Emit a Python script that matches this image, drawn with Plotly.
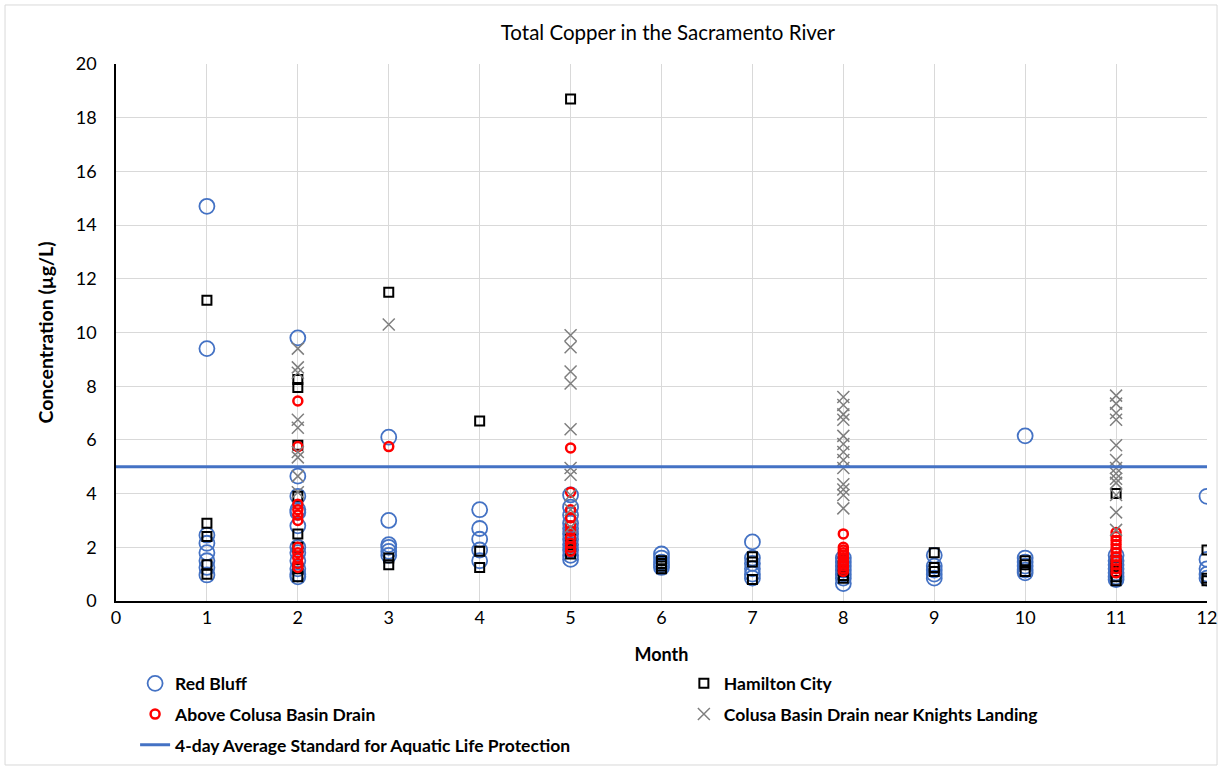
import plotly.graph_objects as go

months = list(range(1, 13))

# Values per month (index 0 = month 1 ... index 11 = month 12)
red_bluff = [
    [14.7, 9.4, 2.45, 2.15, 1.8, 1.5, 1.25, 0.97],
    [9.8, 4.65, 3.9, 3.4, 3.3, 2.8, 2.0, 1.8, 1.5, 1.2, 1.0, 0.9],
    [6.1, 3.0, 2.1, 2.0, 1.85, 1.7],
    [3.4, 2.7, 2.3, 1.9, 1.5],
    [3.95, 3.5, 3.2, 2.9, 2.7, 2.5, 2.3, 2.1, 1.9, 1.7, 1.55],
    [1.75, 1.6, 1.45, 1.35, 1.25],
    [2.2, 1.6, 1.4, 1.2, 1.0, 0.85],
    [1.6, 1.45, 1.3, 1.15, 1.0, 0.85, 0.65],
    [1.7, 1.3, 1.15, 1.0, 0.85],
    [6.15, 1.6, 1.45, 1.3, 1.15, 1.05],
    [1.7, 1.5, 1.35, 1.2, 1.05, 0.9, 0.8],
    [3.9, 1.55, 1.2, 1.0, 0.85],
]
hamilton_city = [
    [11.2, 2.9, 2.4, 1.35, 1.0],
    [8.25, 7.95, 5.8, 3.9, 2.5, 2.0, 1.2, 0.9],
    [11.5, 1.6, 1.35],
    [6.7, 1.85, 1.25],
    [18.7, 2.3, 2.1, 1.9, 1.75],
    [1.5, 1.4, 1.3, 1.2],
    [1.65, 1.45, 0.8],
    [1.5, 1.3, 1.1, 0.95, 0.85],
    [1.8, 1.25, 1.1],
    [1.5, 1.35, 1.1],
    [4.0, 1.5, 1.3, 1.1, 0.9, 0.75],
    [1.9, 0.85, 0.75],
]
above_colusa = [
    [],
    [7.45, 5.75, 3.6, 3.4, 3.2, 3.0, 2.0, 1.8, 1.6, 1.4, 1.25],
    [5.75],
    [],
    [5.7, 4.05, 3.4, 3.1, 2.8, 2.6, 2.35, 2.15, 2.0, 1.85],
    [],
    [],
    [2.5, 2.0, 1.9, 1.8, 1.7, 1.6, 1.5, 1.4, 1.3, 1.2, 1.1],
    [],
    [],
    [2.55, 2.4, 2.25, 2.1, 1.95, 1.8, 1.65, 1.5, 1.35, 1.2, 1.05],
    [],
]
colusa_drain = [
    [],
    [9.4, 8.7, 8.5, 6.75, 6.45, 5.55, 5.35, 4.65, 4.05],
    [10.3],
    [],
    [9.9, 9.45, 8.55, 8.1, 6.4, 4.95, 4.7, 3.95, 3.4, 2.75],
    [],
    [],
    [7.6, 7.3, 6.95, 6.75, 6.15, 5.85, 5.55, 5.25, 4.95, 4.35, 4.15, 3.95, 3.45],
    [],
    [],
    [7.65, 7.35, 7.0, 6.75, 5.8, 5.25, 4.95, 4.75, 4.55, 4.4, 3.95, 3.3, 2.65],
    [],
]
standard_x = [0, 12]
standard_y = [5, 5]


def flatten(series):
    xs, ys = [], []
    for m, vals in zip(months, series):
        for v in vals:
            xs.append(m)
            ys.append(v)
    return xs, ys


FONT = "Lato"
fig = go.Figure()

x, y = flatten(red_bluff)
fig.add_trace(go.Scatter(x=x, y=y, mode="markers", name="Red Bluff",
                         legend="legend", legendgroup="a",
                         marker=dict(symbol="circle-open", size=15, color="#4472C4",
                                     line=dict(width=1.8, color="#4472C4"))))
x, y = flatten(hamilton_city)
fig.add_trace(go.Scatter(x=x, y=y, mode="markers", name="Hamilton City",
                         legend="legend2", legendgroup="b",
                         marker=dict(symbol="square-open", size=9, color="black",
                                     line=dict(width=2, color="black"))))
x, y = flatten(above_colusa)
fig.add_trace(go.Scatter(x=x, y=y, mode="markers", name="Above Colusa Basin Drain",
                         legend="legend", legendgroup="c",
                         marker=dict(symbol="circle-open", size=9, color="#FF0000",
                                     line=dict(width=2.5, color="#FF0000"))))
x, y = flatten(colusa_drain)
fig.add_trace(go.Scatter(x=x, y=y, mode="markers", name="Colusa Basin Drain near Knights Landing",
                         legend="legend2", legendgroup="d",
                         marker=dict(symbol="x-thin-open", size=12, color="#7F7F7F",
                                     line=dict(width=1.5, color="#7F7F7F"))))
fig.add_trace(go.Scatter(x=standard_x, y=standard_y, mode="lines",
                         name="4-day Average Standard for Aquatic Life Protection",
                         legend="legend", legendgroup="e",
                         line=dict(color="#4472C4", width=3)))

legend_common = dict(orientation="v", xanchor="left", yanchor="top",
                     bgcolor="rgba(0,0,0,0)", tracegroupgap=5,
                     font=dict(family=FONT, size=17.5, color="black", weight="bold"))

fig.update_layout(
    width=1222, height=770,
    margin=dict(l=116, r=15, t=64, b=169, autoexpand=False),
    paper_bgcolor="white", plot_bgcolor="white",
    title=dict(text="Total Copper in the Sacramento River", x=0.5465, xanchor="center",
               y=0.958, yanchor="middle",
               font=dict(family=FONT, size=20.5, color="black")),
    xaxis=dict(range=[0, 12], dtick=1, tick0=0, showgrid=True, gridcolor="#D9D9D9",
               gridwidth=1, zeroline=False, showline=True, linecolor="black", linewidth=1.5,
               automargin=False,
               ticks="", ticklabelstandoff=0, tickfont=dict(family=FONT, size=18, color="black"),
               title=dict(text="Month", standoff=21,
                          font=dict(family=FONT, size=18, color="black", weight="bold"))),
    yaxis=dict(range=[0, 20], dtick=2, tick0=0, showgrid=True, gridcolor="#D9D9D9",
               gridwidth=1, zeroline=False, showline=True, linecolor="black", linewidth=1.5,
               automargin=False,
               ticks="", ticklabelstandoff=14, tickfont=dict(family=FONT, size=18, color="black"),
               title=dict(text="Concentration (µg/L)", standoff=17,
                          font=dict(family=FONT, size=19.5, color="black", weight="bold"))),
    legend=dict(x=0.0175, y=-0.12, **legend_common),
    legend2=dict(x=0.5205, y=-0.12, **legend_common),
    shapes=[dict(type="rect", xref="paper", yref="paper", x0=-0.1017, x1=1.0092,
                 y0=-0.3054, y1=1.1099, line=dict(color="#D9D9D9", width=1), layer="below")],
)

fig.write_html("out.html", config={"displayModeBar": False},
               post_script="document.body.style.margin='0';")
